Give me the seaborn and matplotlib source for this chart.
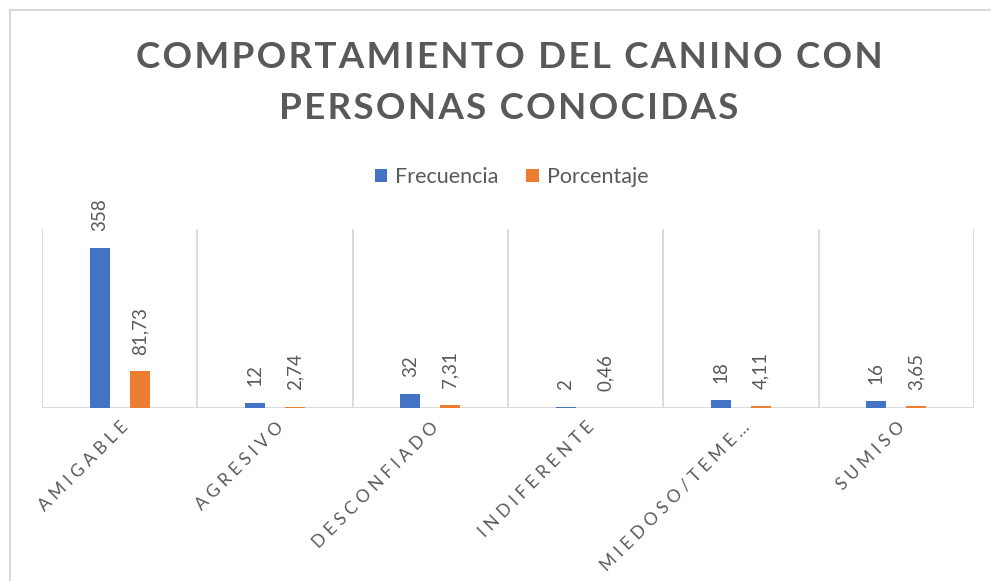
import matplotlib
matplotlib.use("Agg")
import matplotlib.pyplot as plt
import seaborn as sns
import pandas as pd
from matplotlib.lines import Line2D
from matplotlib.patches import Patch

categorias = ["AMIGABLE", "AGRESIVO", "DESCONFIADO", "INDIFERENTE", "MIEDOSO/TEMEROSO", "SUMISO"]
etiquetas = ["AMIGABLE", "AGRESIVO", "DESCONFIADO", "INDIFERENTE", "MIEDOSO/TEME…", "SUMISO"]
frecuencia = [358, 12, 32, 2, 18, 16]
porcentaje = [81.73, 2.74, 7.31, 0.46, 4.11, 3.65]
series = ["Frecuencia", "Porcentaje"]
colores = ["#4472C4", "#ED7D31"]
titulo = ["COMPORTAMIENTO DEL CANINO CON", "PERSONAS CONOCIDAS"]

df = pd.DataFrame({
    "categoria": categorias * 2,
    "serie": [series[0]] * len(categorias) + [series[1]] * len(categorias),
    "valor": frecuencia + porcentaje,
})

sns.set_theme(style="white")
plt.rcParams['font.family'] = ['Lato', 'DejaVu Sans']
GRAY = "#595959"
GRID = "#D9D9D9"

W, H = 991, 581
fig = plt.figure(figsize=(W / 100, H / 100), dpi=100)
ax = fig.add_axes([42 / W, 1 - 408 / H, (974 - 42) / W, (408 - 229) / H])

sns.barplot(data=df, x="categoria", y="valor", hue="serie", order=categorias,
            hue_order=series, palette=colores, width=0.515, gap=0.5,
            saturation=1, legend=False, ax=ax, edgecolor="none")

ax.set_xlim(-0.5, len(categorias) - 0.5)
ax.set_ylim(0, 400)
for s in ax.spines.values():
    s.set_visible(False)
ax.set_yticks([])
ax.set_xlabel("")
ax.set_ylabel("")
for i in range(len(categorias) + 1):
    ax.axvline(i - 0.5, color=GRID, lw=1.3, zorder=0)
ax.axhline(0, color=GRID, lw=1.3, zorder=0.5)

def spaced(s, sep=" "):
    return sep.join(list(s))

ax.set_xticks(range(len(categorias)))
ax.set_xticklabels([spaced(e) for e in etiquetas], rotation=45, ha="right",
                   rotation_mode="anchor", fontsize=12.5, color=GRAY)
ax.tick_params(axis="x", length=0, pad=8)

# data labels
for container, vals, fmt in zip(ax.containers, [frecuencia, porcentaje],
                                [lambda v: f"{v:d}", lambda v: f"{v:.2f}".replace(".", ",")]):
    for bar, v in zip(container, vals):
        ax.annotate(fmt(v), (bar.get_x() + bar.get_width() / 2, bar.get_height()),
                    xytext=(0, 12), textcoords="offset points", rotation=90,
                    ha="center", va="bottom", fontsize=13.5, color=GRAY,
                    annotation_clip=False)

cx = 0.5 * (133 + 885) / W
for linea, yc in zip(titulo, [58, 108]):
    fig.text(cx, 1 - yc / H, spaced(linea, "\u200a"), ha="center", va="center",
             fontsize=26.5, fontweight="bold", color=GRAY)

handles = [Patch(facecolor=c, edgecolor="none") for c in colores]
fig.legend(handles, series, loc="center", bbox_to_anchor=(0.5 * (375 + 648) / W, 1 - 177 / H),
           ncol=2, frameon=False, fontsize=15.5, handlelength=0.6, handleheight=0.6,
           handletextpad=0.35, columnspacing=1.3, labelcolor=GRAY)

fig.add_artist(Line2D([10 / W, 10 / W], [0, 1 - 10 / H], color=GRID, lw=1.5))
fig.add_artist(Line2D([10 / W, 1], [1 - 10 / H, 1 - 10 / H], color=GRID, lw=1.5))

fig.savefig("out.png", dpi=100)
